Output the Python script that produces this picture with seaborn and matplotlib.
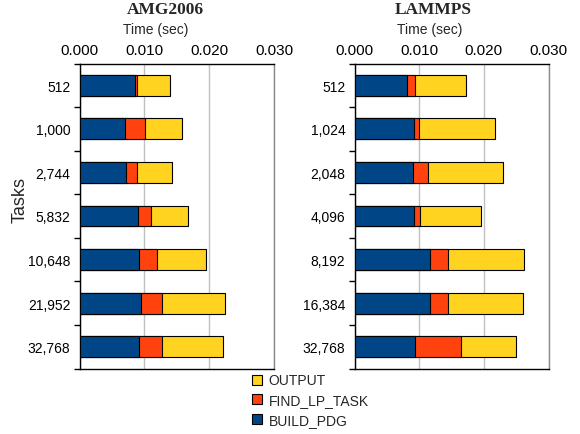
import matplotlib
matplotlib.use("Agg")
import matplotlib.pyplot as plt
from matplotlib.patches import Patch
from matplotlib.ticker import FixedLocator, MultipleLocator
import numpy as np
import pandas as pd
import seaborn as sns

# Per-phase timings (seconds) for each application and task count
amg_tasks = ["512", "1,000", "2,744", "5,832", "10,648", "21,952", "32,768"]
amg_build = [0.0085, 0.0070, 0.0071, 0.0091, 0.0092, 0.0095, 0.0092]
amg_find = [0.0004, 0.0031, 0.0017, 0.0019, 0.0027, 0.0032, 0.0035]
amg_output = [0.0050, 0.0057, 0.0055, 0.0058, 0.0076, 0.0097, 0.0095]

lmp_tasks = ["512", "1,024", "2,048", "4,096", "8,192", "16,384", "32,768"]
lmp_build = [0.0081, 0.0092, 0.0091, 0.0092, 0.0117, 0.0116, 0.0093]
lmp_find = [0.0012, 0.0008, 0.0023, 0.0010, 0.0027, 0.0028, 0.0072]
lmp_output = [0.0080, 0.0117, 0.0116, 0.0093, 0.0118, 0.0116, 0.0084]

phases = ["BUILD_PDG", "FIND_LP_TASK", "OUTPUT"]
colors = {"BUILD_PDG": "#004586", "FIND_LP_TASK": "#ff420e", "OUTPUT": "#ffd320"}

sns.set_theme(style="white")
plt.rcParams["font.family"] = ["Liberation Sans", "DejaVu Sans"]

fig = plt.figure(figsize=(5.8, 4.35), dpi=100)
W, H = 580.0, 435.0
bottom = 1 - 369.5 / H
top = 1 - 64.5 / H
ax_l = fig.add_axes([79.5 / W, bottom, 194.5 / W, top - bottom])
ax_r = fig.add_axes([354.5 / W, bottom, 194 / W, top - bottom])


def draw_panel(ax, title, tasks, build, find, output, title_x, label_x):
    df = pd.DataFrame({"Tasks": tasks, "BUILD_PDG": build,
                       "FIND_LP_TASK": find, "OUTPUT": output})
    df["cum_find"] = df["BUILD_PDG"] + df["FIND_LP_TASK"]
    df["cum_out"] = df["cum_find"] + df["OUTPUT"]
    # stacked bars: draw the running totals back to front
    for col, phase in [("cum_out", "OUTPUT"), ("cum_find", "FIND_LP_TASK"),
                       ("BUILD_PDG", "BUILD_PDG")]:
        sns.barplot(data=df, x=col, y="Tasks", orient="h", ax=ax,
                    color=colors[phase], saturation=1, width=0.48,
                    edgecolor="black", linewidth=0.8, zorder=3)
    ax.set_xlim(0, 0.030)
    ax.set_ylim(len(tasks) - 0.5, -0.5)
    ax.xaxis.set_major_locator(MultipleLocator(0.010))
    ax.xaxis.set_major_formatter(matplotlib.ticker.FormatStrFormatter("%.3f"))
    ax.xaxis.tick_top()
    ax.tick_params(axis="x", which="major", length=0, pad=4.8,
                   labelsize=11, colors="black")
    ax.yaxis.set_minor_locator(FixedLocator(np.arange(-0.5, len(tasks), 1.0)))
    ax.tick_params(axis="y", which="major", length=0, pad=6.5,
                   labelsize=10, colors="black")
    ax.tick_params(axis="y", which="minor", length=4, width=1,
                   color="black", left=True)
    ax.set_xlabel("")
    ax.set_ylabel("")
    ax.grid(axis="x", color="#c0c0c0", linewidth=1, zorder=0)
    ax.set_axisbelow(True)
    for s in ["left", "top", "bottom"]:
        ax.spines[s].set_color("black")
        ax.spines[s].set_linewidth(1)
    ax.spines["right"].set_color("#8a8a8a")
    ax.spines["right"].set_linewidth(1)
    ax.text(title_x, 1 + 54 / 305, title, transform=ax.transAxes,
            ha="center", va="center", fontsize=12.5, fontweight="bold",
            family=["Liberation Serif", "DejaVu Serif"])
    ax.text(label_x, 1 + 35 / 305, "Time (sec)", transform=ax.transAxes,
            ha="center", va="center", fontsize=10)


draw_panel(ax_l, "AMG2006", amg_tasks, amg_build, amg_find, amg_output,
           (165 - 79.5) / 194.5, (156 - 79.5) / 194.5)
draw_panel(ax_r, "LAMMPS", lmp_tasks, lmp_build, lmp_find, lmp_output,
           (433 - 354.5) / 194, (430 - 354.5) / 194)

fig.text(20 / W, 1 - 200 / H, "Tasks", rotation=90, ha="center",
         va="center", fontsize=13)

handles = [Patch(facecolor=colors[p], edgecolor="black", linewidth=0.8, label=p)
           for p in reversed(phases)]
fig.legend(handles=handles, loc="upper left", bbox_to_anchor=(252 / W, 1 - 374.5 / H),
           frameon=False, fontsize=10, handlelength=0.7, handleheight=0.7,
           handletextpad=0.5, labelspacing=0.4, borderpad=0, borderaxespad=0)

fig.savefig("out.png", dpi=100)
